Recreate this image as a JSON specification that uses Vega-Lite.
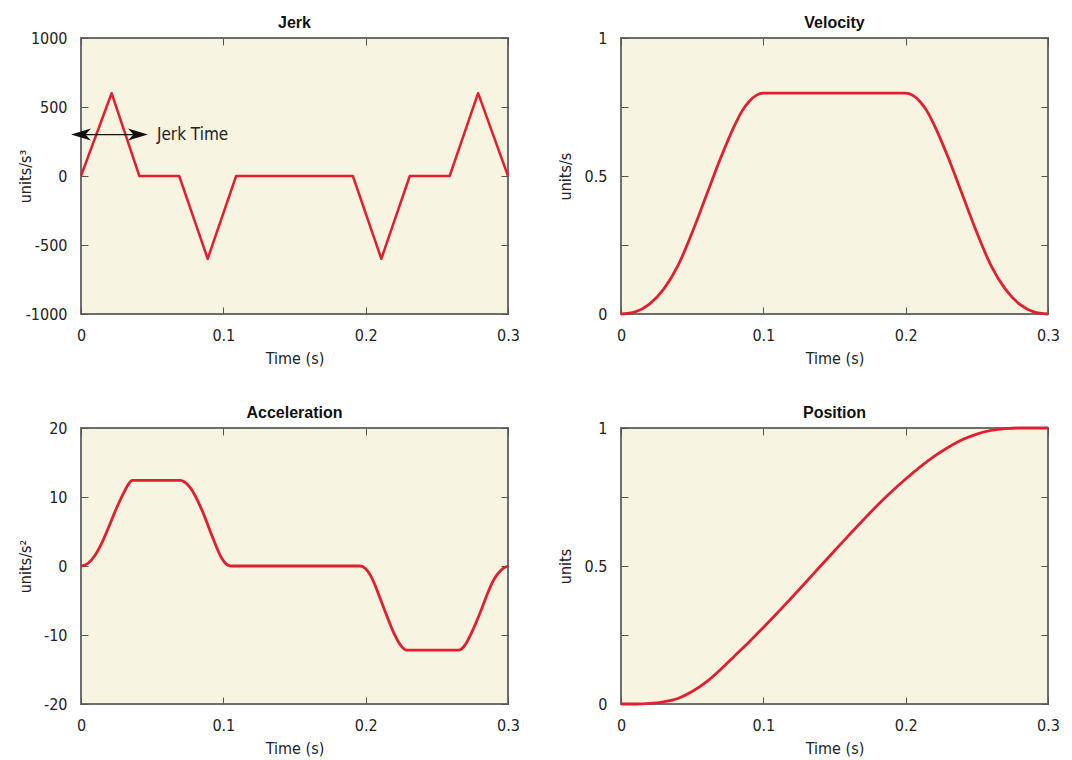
{
  "$schema": "https://vega.github.io/schema/vega-lite/v6.json",
  "background": "white",
  "padding": {"left": 16, "top": 14, "right": 5, "bottom": 0},
  "datasets": {
    "jerk": [
      {"t": 0, "v": 0}, {"t": 0.0215, "v": 600}, {"t": 0.041, "v": 0}, {"t": 0.069, "v": 0},
      {"t": 0.089, "v": -600}, {"t": 0.109, "v": 0}, {"t": 0.191, "v": 0}, {"t": 0.211, "v": -600},
      {"t": 0.231, "v": 0}, {"t": 0.259, "v": 0}, {"t": 0.279, "v": 600}, {"t": 0.3, "v": 0}
    ],
    "jerkTime": [
      {"t0": 0, "t1": 0.04, "v": 300, "label": "Jerk Time"}
    ],
    "velocity": [
      {"t": 0, "v": 0}, {"t": 0.01, "v": 0.008}, {"t": 0.02, "v": 0.036}, {"t": 0.03, "v": 0.09},
      {"t": 0.04, "v": 0.175}, {"t": 0.05, "v": 0.295}, {"t": 0.06, "v": 0.43}, {"t": 0.07, "v": 0.565},
      {"t": 0.08, "v": 0.685}, {"t": 0.085, "v": 0.735}, {"t": 0.09, "v": 0.77}, {"t": 0.095, "v": 0.792},
      {"t": 0.1, "v": 0.8}, {"t": 0.2, "v": 0.8}, {"t": 0.205, "v": 0.792}, {"t": 0.21, "v": 0.77},
      {"t": 0.215, "v": 0.735}, {"t": 0.22, "v": 0.685}, {"t": 0.23, "v": 0.565}, {"t": 0.24, "v": 0.43},
      {"t": 0.25, "v": 0.295}, {"t": 0.26, "v": 0.175}, {"t": 0.27, "v": 0.09}, {"t": 0.28, "v": 0.036},
      {"t": 0.29, "v": 0.008}, {"t": 0.3, "v": 0}
    ],
    "acceleration": [
      {"t": 0, "v": 0}, {"t": 0.005, "v": 0.4}, {"t": 0.01, "v": 1.6}, {"t": 0.015, "v": 3.5},
      {"t": 0.02, "v": 5.9}, {"t": 0.025, "v": 8.4}, {"t": 0.03, "v": 10.6}, {"t": 0.0335, "v": 11.9},
      {"t": 0.036, "v": 12.4}, {"t": 0.07, "v": 12.4}, {"t": 0.0725, "v": 12.2}, {"t": 0.077, "v": 11.3},
      {"t": 0.085, "v": 8.1}, {"t": 0.092, "v": 4.4}, {"t": 0.099, "v": 1.1}, {"t": 0.103, "v": 0.15},
      {"t": 0.106, "v": 0}, {"t": 0.196, "v": 0}, {"t": 0.2, "v": -0.4}, {"t": 0.205, "v": -2.0},
      {"t": 0.21, "v": -4.6}, {"t": 0.215, "v": -7.3}, {"t": 0.22, "v": -9.8}, {"t": 0.225, "v": -11.6},
      {"t": 0.229, "v": -12.2}, {"t": 0.265, "v": -12.2}, {"t": 0.2675, "v": -12.0}, {"t": 0.27, "v": -11.4},
      {"t": 0.275, "v": -9.4}, {"t": 0.28, "v": -7.0}, {"t": 0.285, "v": -4.3}, {"t": 0.29, "v": -2.0},
      {"t": 0.295, "v": -0.6}, {"t": 0.3, "v": 0}
    ],
    "position": [
      {"t": 0, "v": 0}, {"t": 0.01, "v": 0.0}, {"t": 0.02, "v": 0.002}, {"t": 0.03, "v": 0.008},
      {"t": 0.04, "v": 0.02}, {"t": 0.05, "v": 0.045}, {"t": 0.06, "v": 0.08}, {"t": 0.07, "v": 0.125},
      {"t": 0.08, "v": 0.175}, {"t": 0.09, "v": 0.225}, {"t": 0.1, "v": 0.277}, {"t": 0.11, "v": 0.331},
      {"t": 0.12, "v": 0.386}, {"t": 0.13, "v": 0.442}, {"t": 0.14, "v": 0.499}, {"t": 0.15, "v": 0.555},
      {"t": 0.16, "v": 0.611}, {"t": 0.17, "v": 0.666}, {"t": 0.18, "v": 0.719}, {"t": 0.19, "v": 0.769},
      {"t": 0.2, "v": 0.815}, {"t": 0.21, "v": 0.858}, {"t": 0.22, "v": 0.897}, {"t": 0.23, "v": 0.93},
      {"t": 0.24, "v": 0.958}, {"t": 0.25, "v": 0.978}, {"t": 0.26, "v": 0.991}, {"t": 0.27, "v": 0.998},
      {"t": 0.28, "v": 1.0}, {"t": 0.29, "v": 1.0}, {"t": 0.3, "v": 1.0}
    ]
  },
  "vconcat": [
    {
      "hconcat": [
        {
          "title": "Jerk",
          "width": 427, "height": 276,
          "layer": [
            {
              "data": {"name": "jerk"},
              "mark": {"type": "line", "strokeWidth": 2.5},
              "encoding": {
                "x": {"field": "t", "type": "quantitative", "scale": {"domain": [0, 0.3], "nice": false},
                      "axis": {"orient": "bottom", "title": "Time (s)", "values": [0, 0.1, 0.2, 0.3], "format": ".1~f"}},
                "y": {"field": "v", "type": "quantitative", "scale": {"domain": [-1000, 1000], "nice": false},
                      "axis": {"orient": "left", "title": "units/s³", "values": [-1000, -500, 0, 500, 1000],
                               "labelExpr": "datum.value < 0 ? '-' + format(-datum.value, 'd') : format(datum.value, 'd')"}}
              }
            },
            {
              "data": {"name": "jerk"},
              "mark": {"type": "line", "strokeOpacity": 0},
              "encoding": {
                "x": {"field": "t", "type": "quantitative", "axis": {"orient": "top", "title": null, "labels": false, "values": [0, 0.1, 0.2, 0.3]}},
                "y": {"field": "v", "type": "quantitative", "axis": {"orient": "right", "title": null, "labels": false, "values": [-1000, -500, 0, 500, 1000]}}
              }
            },
            {
              "data": {"name": "jerkTime"},
              "mark": {"type": "rule", "color": "#111", "strokeWidth": 1.2},
              "encoding": {
                "x": {"field": "t0", "type": "quantitative", "axis": null},
                "x2": {"field": "t1"},
                "y": {"field": "v", "type": "quantitative", "axis": null}
              }
            },
            {
              "data": {"name": "jerkTime"},
              "mark": {"type": "point", "filled": true, "color": "#111", "opacity": 1, "size": 400, "strokeWidth": 0,
                       "shape": "M-1,0L1,-0.6L0.45,0L1,0.6Z"},
              "encoding": {
                "x": {"field": "t0", "type": "quantitative", "axis": null},
                "y": {"field": "v", "type": "quantitative", "axis": null}
              }
            },
            {
              "data": {"name": "jerkTime"},
              "mark": {"type": "point", "filled": true, "color": "#111", "opacity": 1, "size": 400, "strokeWidth": 0,
                       "shape": "M1,0L-1,-0.6L-0.45,0L-1,0.6Z"},
              "encoding": {
                "x": {"field": "t1", "type": "quantitative", "axis": null},
                "y": {"field": "v", "type": "quantitative", "axis": null}
              }
            },
            {
              "data": {"name": "jerkTime"},
              "mark": {"type": "text", "align": "left", "baseline": "middle", "dx": 19, "fontSize": 17, "color": "#222",
                       "font": "DejaVu Sans Condensed, sans-serif"},
              "encoding": {
                "x": {"field": "t1", "type": "quantitative", "axis": null},
                "y": {"field": "v", "type": "quantitative", "axis": null},
                "text": {"field": "label"}
              }
            }
          ],
          "resolve": {"axis": {"x": "independent", "y": "independent"}}
        },
        {
          "title": "Velocity",
          "width": 427, "height": 276,
          "data": {"name": "velocity"},
          "layer": [
            {
              "mark": {"type": "line", "interpolate": "monotone"},
              "encoding": {
                "x": {"field": "t", "type": "quantitative", "scale": {"domain": [0, 0.3], "nice": false},
                      "axis": {"orient": "bottom", "title": "Time (s)", "values": [0, 0.1, 0.2, 0.3], "format": ".1~f"}},
                "y": {"field": "v", "type": "quantitative", "scale": {"domain": [0, 1], "nice": false},
                      "axis": {"orient": "left", "title": "units/s", "values": [0, 0.25, 0.5, 0.75, 1], "format": "~g",
                               "labelExpr": "datum.value == 0.25 || datum.value == 0.75 ? '' : datum.label"}}
              }
            },
            {
              "mark": {"type": "line", "strokeOpacity": 0},
              "encoding": {
                "x": {"field": "t", "type": "quantitative", "axis": {"orient": "top", "title": null, "labels": false, "values": [0, 0.1, 0.2, 0.3]}},
                "y": {"field": "v", "type": "quantitative", "axis": {"orient": "right", "title": null, "labels": false, "values": [0, 0.25, 0.5, 0.75, 1]}}
              }
            }
          ],
          "resolve": {"axis": {"x": "independent", "y": "independent"}}
        }
      ]
    },
    {
      "hconcat": [
        {
          "title": "Acceleration",
          "width": 427, "height": 276,
          "data": {"name": "acceleration"},
          "layer": [
            {
              "mark": {"type": "line", "interpolate": "monotone"},
              "encoding": {
                "x": {"field": "t", "type": "quantitative", "scale": {"domain": [0, 0.3], "nice": false},
                      "axis": {"orient": "bottom", "title": "Time (s)", "values": [0, 0.1, 0.2, 0.3], "format": ".1~f"}},
                "y": {"field": "v", "type": "quantitative", "scale": {"domain": [-20, 20], "nice": false},
                      "axis": {"orient": "left", "title": "units/s²", "values": [-20, -10, 0, 10, 20],
                               "labelExpr": "datum.value < 0 ? '-' + format(-datum.value, 'd') : format(datum.value, 'd')"}}
              }
            },
            {
              "mark": {"type": "line", "strokeOpacity": 0},
              "encoding": {
                "x": {"field": "t", "type": "quantitative", "axis": {"orient": "top", "title": null, "labels": false, "values": [0, 0.1, 0.2, 0.3]}},
                "y": {"field": "v", "type": "quantitative", "axis": {"orient": "right", "title": null, "labels": false, "values": [-20, -10, 0, 10, 20]}}
              }
            }
          ],
          "resolve": {"axis": {"x": "independent", "y": "independent"}}
        },
        {
          "title": "Position",
          "width": 427, "height": 276,
          "data": {"name": "position"},
          "layer": [
            {
              "mark": {"type": "line", "interpolate": "monotone"},
              "encoding": {
                "x": {"field": "t", "type": "quantitative", "scale": {"domain": [0, 0.3], "nice": false},
                      "axis": {"orient": "bottom", "title": "Time (s)", "values": [0, 0.1, 0.2, 0.3], "format": ".1~f"}},
                "y": {"field": "v", "type": "quantitative", "scale": {"domain": [0, 1], "nice": false},
                      "axis": {"orient": "left", "title": "units", "values": [0, 0.25, 0.5, 0.75, 1], "format": "~g",
                               "labelExpr": "datum.value == 0.25 || datum.value == 0.75 ? '' : datum.label"}}
              }
            },
            {
              "mark": {"type": "line", "strokeOpacity": 0},
              "encoding": {
                "x": {"field": "t", "type": "quantitative", "axis": {"orient": "top", "title": null, "labels": false, "values": [0, 0.1, 0.2, 0.3]}},
                "y": {"field": "v", "type": "quantitative", "axis": {"orient": "right", "title": null, "labels": false, "values": [0, 0.25, 0.5, 0.75, 1]}}
              }
            }
          ],
          "resolve": {"axis": {"x": "independent", "y": "independent"}}
        }
      ]
    }
  ],
  "spacing": 37,
  "config": {
    "font": "DejaVu Sans Condensed, sans-serif",
    "concat": {"spacing": 35},
    "view": {"stroke": "#6e6e6e", "strokeWidth": 2, "fill": "#f7f4e1"},
    "line": {"stroke": "#e31e2f", "strokeWidth": 2.8, "strokeJoin": "round"},
    "axis": {
      "domain": false, "grid": false,
      "tickSize": -7, "tickColor": "#555555", "tickWidth": 1,
      "labelFont": "DejaVu Sans Condensed, sans-serif",
      "labelFontSize": 16, "labelColor": "#222222",
      "titleFont": "DejaVu Sans Condensed, sans-serif",
      "titleFontSize": 16, "titleFontWeight": "normal", "titleColor": "#222222"
    },
    "axisBottom": {"titlePadding": 7, "labelPadding": 20, "labelFlush": false},
    "axisLeft": {"minExtent": 40, "maxExtent": 40, "titlePadding": 8, "labelPadding": 21},
    "axisTop": {"minExtent": 0, "maxExtent": 0, "labelFlush": false},
    "axisRight": {"minExtent": 0, "maxExtent": 0},
    "title": {"font": "Liberation Sans", "fontSize": 16, "fontWeight": "bold", "color": "#111111", "offset": -1}
  }
}
